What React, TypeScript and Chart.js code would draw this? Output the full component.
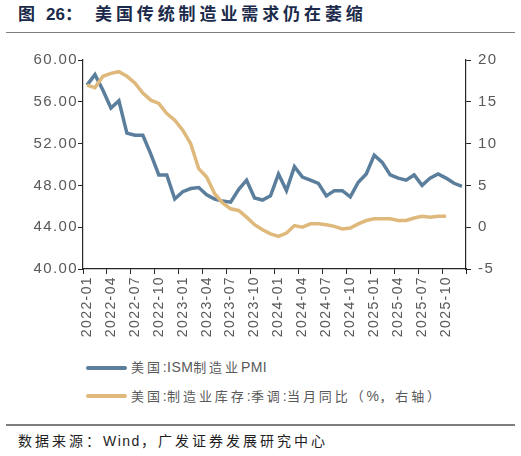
import React, { useEffect, useRef } from "react";
import { Chart, registerables } from "chart.js";

Chart.register(...registerables);

const months: string[] = [
  "2022-01","2022-02","2022-03","2022-04","2022-05","2022-06","2022-07","2022-08","2022-09","2022-10","2022-11","2022-12",
  "2023-01","2023-02","2023-03","2023-04","2023-05","2023-06","2023-07","2023-08","2023-09","2023-10","2023-11","2023-12",
  "2024-01","2024-02","2024-03","2024-04","2024-05","2024-06","2024-07","2024-08","2024-09","2024-10","2024-11","2024-12",
  "2025-01","2025-02","2025-03","2025-04","2025-05","2025-06","2025-07","2025-08","2025-09","2025-10","2025-11","2025-12",
];

const ismPmi: number[] = [
  57.6, 58.6, 57.1, 55.4, 56.1, 53.0, 52.8, 52.8, 51.0, 49.0, 49.0, 46.7,
  47.4, 47.7, 47.8, 47.1, 46.7, 46.5, 46.4, 47.6, 48.5, 46.8, 46.6, 47.0,
  49.1, 47.5, 49.8, 48.8, 48.5, 48.2, 47.0, 47.5, 47.5, 46.9, 48.3, 49.1,
  50.9, 50.2, 49.0, 48.7, 48.5, 49.0, 48.0, 48.7, 49.1, 48.7, 48.2, 47.9,
];

const inventoryYoY: (number | null)[] = [
  17.0, 16.7, 18.05, 18.4, 18.6, 18.05, 17.25, 16.05, 15.2, 14.8, 13.6, 12.8,
  11.6, 10.0, 7.0, 6.0, 4.0, 2.9, 2.2, 2.0, 1.2, 0.3, -0.3, -0.8,
  -1.1, -0.7, 0.2, 0.0, 0.4, 0.4, 0.3, 0.1, -0.2, -0.1, 0.4, 0.8,
  1.0, 1.0, 1.0, 0.8, 0.8, 1.1, 1.3, 1.2, 1.3, 1.3, null, null,
];

const seriesNames: string[] = [
  "美国:ISM制造业PMI",
  "美国:制造业库存:季调:当月同比（%，右轴）",
];

const leftTicks = { min: 40, max: 60, step: 4 };
const rightTicks = { min: -5, max: 20, step: 5 };

const BLUE = "#5a7e9c";
const GOLD = "#dfb97c";
const AXIS = "#262626";
const TICK_TEXT = "#595959";
const FONT = '"Liberation Sans", Arial, "Noto Sans CJK SC", sans-serif';

const spacingPlugin = {
  id: "tickLetterSpacing",
  beforeUpdate(chart: any) {
    (chart.ctx as any).letterSpacing = "1.4px";
  },
  beforeDraw(chart: any) {
    (chart.ctx as any).letterSpacing = "1.4px";
  },
};

function ChartCanvas() {
  const ref = useRef<HTMLCanvasElement | null>(null);
  useEffect(() => {
    if (!ref.current) return;
    const chart = new Chart(ref.current, {
      type: "line",
      plugins: [spacingPlugin],
      data: {
        labels: months,
        datasets: [
          {
            label: seriesNames[0],
            data: ismPmi,
            borderColor: BLUE,
            backgroundColor: BLUE,
            borderWidth: 3.5,
            pointRadius: 0,
            yAxisID: "y",
            tension: 0,
            order: 1,
          },
          {
            label: seriesNames[1],
            data: inventoryYoY,
            borderColor: GOLD,
            backgroundColor: GOLD,
            borderWidth: 3.5,
            pointRadius: 0,
            yAxisID: "y1",
            tension: 0,
            order: 0,
          },
        ],
      },
      options: {
        animation: false,
        responsive: false,
        maintainAspectRatio: false,
        layout: { padding: { top: 20, left: 0, right: 0, bottom: 0 } },
        plugins: { legend: { display: false }, tooltip: { enabled: false } },
        scales: {
          x: {
            type: "category",
            offset: true,
            afterFit: (s: any) => { s.height = 71; },
            grid: {
              offset: true,
              drawOnChartArea: false,
              drawTicks: true,
              tickLength: 5,
              color: (ctx: any) =>
                ctx.type !== "tick" || ctx.index % 3 === 0 ? AXIS : "rgba(0,0,0,0)",
            },
            border: { display: true, color: AXIS, width: 1.2 },
            ticks: {
              autoSkip: false,
              maxRotation: 90,
              minRotation: 90,
              padding: 2,
              color: TICK_TEXT,
              font: { family: FONT, size: 14 },
              callback: function (this: any, _v: any, i: number) {
                return i % 3 === 0 ? months[i] : "";
              },
            },
          },
          y: {
            position: "left",
            min: leftTicks.min,
            max: leftTicks.max,
            afterFit: (s: any) => { s.width = 83; },
            grid: { drawOnChartArea: false, drawTicks: true, tickLength: 5, color: AXIS },
            border: { display: true, color: AXIS, width: 1.2 },
            ticks: {
              stepSize: leftTicks.step,
              padding: 0,
              color: TICK_TEXT,
              font: { family: FONT, size: 15 },
              callback: (v: any) => Number(v).toFixed(2),
            },
          },
          y1: {
            position: "right",
            min: rightTicks.min,
            max: rightTicks.max,
            afterFit: (s: any) => { s.width = 55; },
            grid: { drawOnChartArea: false, drawTicks: true, tickLength: 5, color: AXIS },
            border: { display: true, color: AXIS, width: 1.2 },
            ticks: {
              stepSize: rightTicks.step,
              padding: 7,
              color: TICK_TEXT,
              font: { family: FONT, size: 15 },
            },
          },
        },
      },
    } as any);
    return () => chart.destroy();
  }, []);
  return (
    <canvas
      ref={ref}
      width={521}
      height={300}
      style={{ position: "absolute", left: 0, top: 40, width: 521, height: 300 }}
    />
  );
}

function spacedText(s: string, cjkSpacing: number, latinSpacing: number) {
  const runs: { t: string; cjk: boolean }[] = [];
  for (const ch of s) {
    const cjk = ch.charCodeAt(0) > 0x2000;
    const last = runs[runs.length - 1];
    if (last && last.cjk === cjk) last.t += ch;
    else runs.push({ t: ch, cjk });
  }
  return runs.map((r, i) => (
    <span key={i} style={{ letterSpacing: `${r.cjk ? cjkSpacing : latinSpacing}px`, fontSize: r.cjk ? 13 : 14 }}>
      {r.t}
    </span>
  ));
}

export default function App() {
  const legendColors = [BLUE, GOLD];
  const legendTops = [357.3, 385.7];
  return (
    <div
      style={{
        position: "fixed",
        left: 0,
        top: 0,
        width: 521,
        height: 456,
        background: "#ffffff",
        fontFamily: FONT,
        overflow: "hidden",
      }}
    >
      <div
        style={{
          position: "absolute",
          left: 18,
          top: 4,
          height: 21,
          lineHeight: "21px",
          fontSize: 17,
          color: "#1b2a4a",
          whiteSpace: "nowrap",
        }}
      >
        <span style={{ fontWeight: 700 }}>图</span>
        <span style={{ fontWeight: 700, marginLeft: 11 }}>26：</span>
      </div>
      <div
        style={{
          position: "absolute",
          left: 95,
          top: 4,
          height: 21,
          lineHeight: "21px",
          fontSize: 17,
          fontWeight: 700,
          letterSpacing: "3.9px",
          color: "#1b2a4a",
          whiteSpace: "nowrap",
        }}
      >
        美国传统制造业需求仍在萎缩
      </div>
      <div style={{ position: "absolute", left: 6, top: 31.5, width: 509, height: 1.5, background: "#7f7f7f" }} />
      <ChartCanvas />
      {seriesNames.map((name, i) => (
        <div
          key={name}
          style={{
            position: "absolute",
            left: 86,
            top: legendTops[i],
            height: 20,
            lineHeight: "20px",
            whiteSpace: "nowrap",
            fontSize: 13,
            color: TICK_TEXT,
          }}
        >
          <span
            style={{
              display: "inline-block",
              width: 41,
              height: 4,
              borderRadius: 2,
              background: legendColors[i],
              verticalAlign: "middle",
              marginRight: 4,
              marginTop: -2,
            }}
          />
          {spacedText(name, 2.9, 0.4)}
        </div>
      ))}
      <div style={{ position: "absolute", left: 6, top: 424, width: 509, height: 1.5, background: "#7f7f7f" }} />
      <div
        style={{
          position: "absolute",
          left: 18,
          top: 431,
          height: 20,
          lineHeight: "20px",
          fontSize: 14,
          color: "#1e1e1e",
          whiteSpace: "nowrap",
          letterSpacing: "3px",
        }}
      >
        数据来源：<span style={{ letterSpacing: "1.5px" }}>Wind</span>，广发证券发展研究中心
      </div>
    </div>
  );
}
